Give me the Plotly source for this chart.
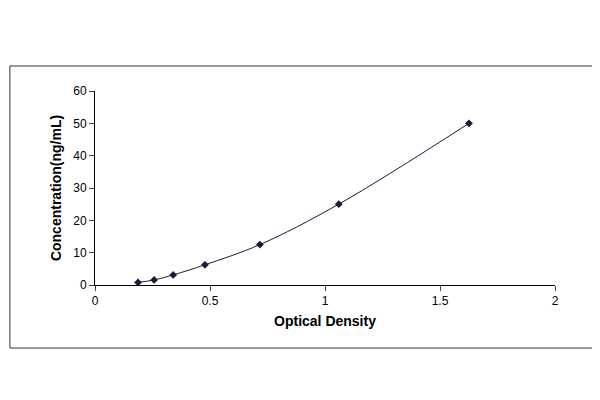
import plotly.graph_objects as go

od = [0.187, 0.257, 0.34, 0.478, 0.717, 1.06, 1.626]
conc = [0.78, 1.56, 3.12, 6.25, 12.5, 25, 50]

fig = go.Figure()
fig.add_trace(go.Scatter(
    x=od, y=conc, mode='lines+markers',
    line=dict(color='#1a1a40', width=1, shape='spline'),
    marker=dict(symbol='diamond', size=6, color='#1a1a40'),
    showlegend=False))

fig.update_layout(
    width=600, height=400,
    margin=dict(l=87, r=53, t=83, b=123),
    paper_bgcolor='white', plot_bgcolor='white',
    font=dict(family='Arial, Liberation Sans', size=12, color='black'),
    xaxis=dict(range=[0, 2], dtick=0.5, showgrid=False, zeroline=False,
               showline=True, linecolor='black', ticks='outside', ticklen=5,
               title=dict(text='<b>Optical Density</b>', standoff=8)),
    yaxis=dict(range=[0, 60], dtick=10, showgrid=False, zeroline=False,
               showline=True, linecolor='black', ticks='outside', ticklen=5,
               title=dict(text='<b>Concentration(ng/mL)</b>', standoff=8)),
)
# outer frame around the chart
fig.add_shape(type='rect', xref='paper', yref='paper',
              x0=-0.185, x1=1.111, y0=-0.325, y1=1.129,
              line=dict(color='#333', width=1))
fig.write_html("out.html")
